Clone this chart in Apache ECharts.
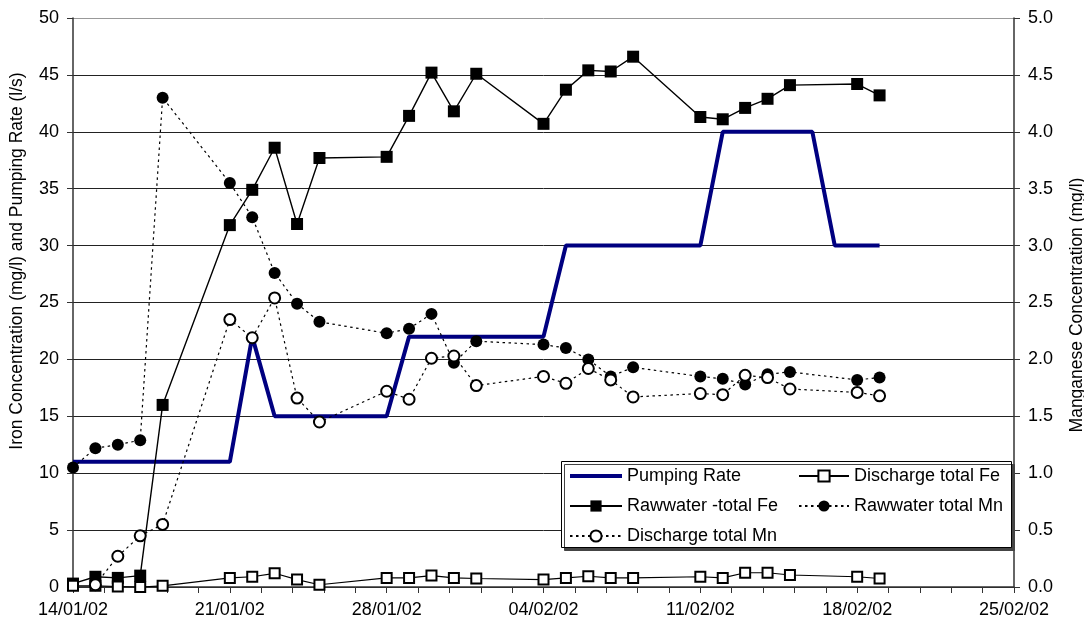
<!DOCTYPE html>
<html><head><meta charset="utf-8">
<script src="https://cdn.jsdelivr.net/npm/echarts@6/dist/echarts.min.js"></script>
<style>html,body{margin:0;padding:0;background:#fff}#c{width:1084px;height:628px}</style>
</head><body><div id="c"></div>
<script>
// ---- DATA ----
const axisStartDate = '2002-01-14';
const axisEndDate = '2002-02-25';

const pumpDates = ['2002-01-14','2002-01-21','2002-01-22','2002-01-23','2002-01-28','2002-01-29','2002-02-04','2002-02-05','2002-02-11','2002-02-12','2002-02-16','2002-02-17','2002-02-19'];
const pumpingRate = [11, 11, 22, 15, 15, 22, 22, 30, 30, 40, 40, 30, 30];

const sampleDates = ['2002-01-14','2002-01-15','2002-01-16','2002-01-17','2002-01-18','2002-01-21','2002-01-22','2002-01-23','2002-01-24','2002-01-25','2002-01-28','2002-01-29','2002-01-30','2002-01-31','2002-02-01','2002-02-04','2002-02-05','2002-02-06','2002-02-07','2002-02-08','2002-02-11','2002-02-12','2002-02-13','2002-02-14','2002-02-15','2002-02-18','2002-02-19'];
const rawFe = [0.3, 0.9, 0.8, 1.0, 16.0, 31.8, 34.9, 38.6, 31.9, 37.7, 37.8, 41.4, 45.2, 41.8, 45.1, 40.7, 43.7, 45.4, 45.3, 46.6, 41.3, 41.1, 42.1, 42.9, 44.1, 44.2, 43.2];
const dischargeFe = [0.1, 0.1, 0.05, 0.0, 0.1, 0.8, 0.9, 1.2, 0.65, 0.2, 0.8, 0.8, 1.0, 0.8, 0.75, 0.65, 0.8, 0.95, 0.8, 0.8, 0.9, 0.8, 1.25, 1.25, 1.05, 0.9, 0.75];
const rawMn = [1.05, 1.22, 1.25, 1.29, 4.30, 3.55, 3.25, 2.76, 2.49, 2.33, 2.23, 2.27, 2.40, 1.97, 2.16, 2.13, 2.10, 2.00, 1.85, 1.93, 1.85, 1.83, 1.78, 1.87, 1.89, 1.82, 1.84];

const dischargeMnDates = ['2002-01-15','2002-01-16','2002-01-17','2002-01-18','2002-01-21','2002-01-22','2002-01-23','2002-01-24','2002-01-25','2002-01-28','2002-01-29','2002-01-30','2002-01-31','2002-02-01','2002-02-04','2002-02-05','2002-02-06','2002-02-07','2002-02-08','2002-02-11','2002-02-12','2002-02-13','2002-02-14','2002-02-15','2002-02-18','2002-02-19'];
const dischargeMn = [0.02, 0.27, 0.45, 0.55, 2.35, 2.19, 2.54, 1.66, 1.45, 1.72, 1.65, 2.01, 2.03, 1.77, 1.85, 1.79, 1.92, 1.82, 1.67, 1.70, 1.69, 1.86, 1.84, 1.74, 1.71, 1.68];

const seriesNames = ['Pumping Rate','Rawwater -total Fe','Discharge total Fe','Rawwater total Mn','Discharge total Mn'];
const leftTitle = 'Iron Concentration (mg/l) and Pumping Rate (l/s)';
const rightTitle = 'Manganese Concentration (mg/l)';

// ---- HELPERS ----
const DAY = 86400000;
function toUTC(s){ const p = s.split('-').map(Number); return Date.UTC(p[0], p[1]-1, p[2]); }
const base = toUTC(axisStartDate);
const span = (toUTC(axisEndDate) - base) / DAY;
function dayOf(s){ return (toUTC(s) - base) / DAY; }
function pairs(dates, vals){ return dates.map((d,i)=>[dayOf(d), vals[i]]); }
function fmtDay(v){
  const d = new Date(base + v*DAY);
  const dd = String(d.getUTCDate()).padStart(2,'0');
  const mm = String(d.getUTCMonth()+1).padStart(2,'0');
  const yy = String(d.getUTCFullYear()).slice(2);
  return dd + '/' + mm + '/' + yy;
}

const FONT = '"Liberation Sans", Arial, sans-serif';
const axisCol = '#333';
const pumpColor = '#000080';
const gridCols = ['#222','#222','#222','#222','#222','#222','#222','#222','#222','#222','#999'];
const dotted = [2.5, 3.5];

const chart = echarts.init(document.getElementById('c'), null, {renderer:'canvas'});
chart.setOption({
  animation: false,
  backgroundColor: '#fff',
  textStyle: {fontFamily: FONT},
  grid: {left: 73, right: 70, top: 18, bottom: 41, containLabel: false},
  xAxis: {
    type: 'value', min: 0, max: span, interval: 7,
    axisLine: {show: true, onZero: false, lineStyle: {color: axisCol, width: 1.5}},
    axisTick: {show: true, inside: false, length: 6, lineStyle: {color: axisCol}},
    minorTick: {show: true, splitNumber: 5, length: 6, lineStyle: {color: axisCol}},
    splitLine: {show: false},
    axisLabel: {margin: 14, fontSize: 18, color: '#000', fontFamily: FONT, formatter: fmtDay, showMaxLabel: true, showMinLabel: true}
  },
  yAxis: [
    {
      type: 'value', min: 0, max: 50, interval: 5, position: 'left',
      axisLine: {show: true, lineStyle: {color: axisCol, width: 1.5}},
      axisTick: {show: true, inside: false, length: 6, lineStyle: {color: axisCol}},
      splitLine: {show: true, lineStyle: {color: gridCols, width: 1}},
      axisLabel: {margin: 14, fontSize: 18, color: '#000', fontFamily: FONT}
    },
    {
      type: 'value', min: 0, max: 5, interval: 0.5, position: 'right',
      axisLine: {show: true, lineStyle: {color: axisCol, width: 1.5}},
      axisTick: {show: true, inside: false, length: 6, lineStyle: {color: axisCol}},
      splitLine: {show: false},
      axisLabel: {margin: 14, fontSize: 18, color: '#000', fontFamily: FONT, formatter: v => v.toFixed(1)}
    }
  ],
  legend: [
    {
      left: 568, top: 467, orient: 'vertical', padding: 0, z: 20,
      itemWidth: 52, itemHeight: 14, itemGap: 12,
      textStyle: {fontSize: 18, color: '#000', fontFamily: FONT},
      data: [
        {name: seriesNames[0], itemStyle: {color: 'rgba(0,0,0,0)', borderWidth: 0, opacity: 0},
         lineStyle: {color: pumpColor, width: 4}},
        seriesNames[1], seriesNames[4]
      ]
    },
    {
      left: 798, top: 467, orient: 'vertical', padding: 0, z: 20,
      itemWidth: 50, itemHeight: 14, itemGap: 12,
      textStyle: {fontSize: 18, color: '#000', fontFamily: FONT},
      data: [seriesNames[2], seriesNames[3]]
    }
  ],
  graphic: [
    {type: 'rect', z: 15, shape: {x: 561.5, y: 461.5, width: 450, height: 86},
     style: {fill: '#fff', stroke: '#000', lineWidth: 1, shadowColor: '#444', shadowOffsetX: 3, shadowOffsetY: 3, shadowBlur: 0}},
    {type: 'text', z: 20, x: 17.5, y: 261, rotation: Math.PI/2,
     style: {text: leftTitle, fontSize: 17.5, fontFamily: FONT, fill: '#000', align: 'center', verticalAlign: 'middle'}},
    {type: 'text', z: 20, x: 1077, y: 305, rotation: Math.PI/2,
     style: {text: rightTitle, fontSize: 17.5, fontFamily: FONT, fill: '#000', align: 'center', verticalAlign: 'middle'}}
  ],
  series: [
    {name: seriesNames[0], type: 'line', yAxisIndex: 0, data: pairs(pumpDates, pumpingRate),
     showSymbol: false, symbol: 'none', lineStyle: {color: pumpColor, width: 4}, itemStyle: {color: pumpColor}},
    {name: seriesNames[1], type: 'line', yAxisIndex: 0, data: pairs(sampleDates, rawFe),
     symbol: 'rect', symbolSize: 12, lineStyle: {color: '#000', width: 1.4}, itemStyle: {color: '#000', borderWidth: 0}},
    {name: seriesNames[2], type: 'line', yAxisIndex: 0, data: pairs(sampleDates, dischargeFe),
     symbol: 'emptyRect', symbolSize: 10, lineStyle: {color: '#000', width: 1.1}, itemStyle: {color: '#000', borderColor: '#000', borderWidth: 1.2}},
    {name: seriesNames[3], type: 'line', yAxisIndex: 1, data: pairs(sampleDates, rawMn),
     symbol: 'circle', symbolSize: 12, lineStyle: {color: '#000', width: 1.2, type: dotted}, itemStyle: {color: '#000', borderWidth: 0}},
    {name: seriesNames[4], type: 'line', yAxisIndex: 1, data: pairs(dischargeMnDates, dischargeMn),
     symbol: 'emptyCircle', symbolSize: 11, lineStyle: {color: '#000', width: 1.2, type: dotted}, itemStyle: {color: '#000', borderColor: '#000', borderWidth: 1.2}}
  ]
});
</script></body></html>
